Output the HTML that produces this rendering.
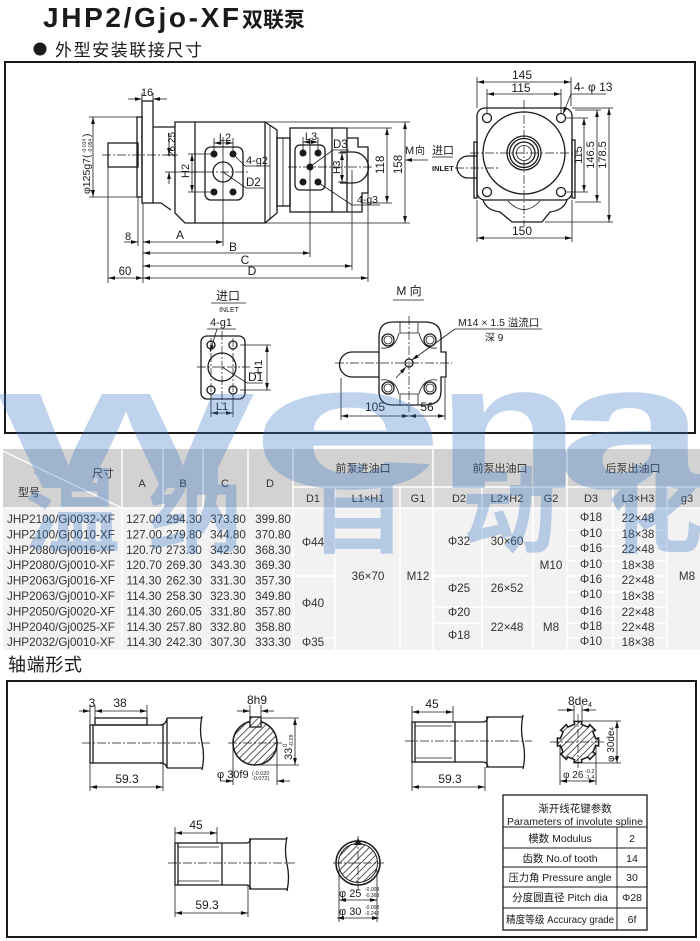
<!DOCTYPE html>
<html><head><meta charset="utf-8">
<style>html,body{margin:0;padding:0;background:#fff;}svg{display:block}</style>
</head><body>
<svg xmlns="http://www.w3.org/2000/svg" width="700" height="941" viewBox="0 0 700 941" font-family="'Liberation Sans','Noto Sans CJK SC',sans-serif">
<defs>
<marker id="a" viewBox="0 0 10 6" refX="10" refY="3" markerWidth="7" markerHeight="4.2" orient="auto-start-reverse" markerUnits="userSpaceOnUse"><path d="M0,0.3 L10,3 L0,5.7z" fill="#111"/></marker>
<pattern id="h" width="5" height="5" patternUnits="userSpaceOnUse" patternTransform="rotate(45)"><line x1="0" y1="0" x2="0" y2="5" stroke="#111" stroke-width="1.4"/></pattern>
</defs>
<style>
.o{fill:none;stroke:#1a1a1a;stroke-width:1.3}
.t{fill:none;stroke:#1a1a1a;stroke-width:0.8}
.d{fill:none;stroke:#1a1a1a;stroke-width:0.8;marker-start:url(#a);marker-end:url(#a)}
.e{fill:none;stroke:#1a1a1a;stroke-width:0.8;marker-end:url(#a)}
.c{fill:none;stroke:#1a1a1a;stroke-width:0.7;stroke-dasharray:9 2 2 2}
.w{stroke:#fff;stroke-width:1.5}
text{fill:#1a1a1a}
.tb{fill:#333;font-size:11.7px}
.th{fill:#333;font-size:11px}
.wm{fill:#3a78c8;font-weight:bold}
</style>

<!-- Header -->
<text x="43" y="27" font-size="28" font-weight="bold" textLength="196" lengthAdjust="spacing">JHP2/Gjo-XF</text>
<text x="242" y="27" font-size="21" font-weight="bold">双联泵</text>
<circle cx="40" cy="49" r="6.5" fill="#1a1a1a"/>
<text x="55" y="56" font-size="17" textLength="147">外型安装联接尺寸</text>

<!-- Box 1 -->
<rect x="5" y="62" width="690" height="371" fill="none" stroke="#1a1a1a" stroke-width="2"/>

<!-- Side view -->
<rect class="o" x="108" y="143" width="30" height="24"/>
<rect class="o" x="137" y="117" width="5" height="80"/>
<rect class="o" x="142" y="101" width="11" height="102"/>
<path class="o" d="M153,127 H175 M153,203 H161 L171,210"/>
<path class="o" d="M175,122 H265 V223 H185 L175,213 Z"/>
<line class="o" x1="195" y1="122" x2="195" y2="223"/>
<path class="o" d="M265,122 L277,130 V213 L265,223"/>
<line class="t" x1="270" y1="125" x2="270" y2="220"/>
<rect class="o" x="277" y="138" width="13" height="68"/>
<line class="t" x1="283" y1="138" x2="283" y2="206"/>
<rect class="o" x="290" y="128" width="42" height="84"/>
<path class="o" d="M332,128 H347 V138 H358 V147 H368 V193 H362 V212 H332"/>
<line class="o" x1="347" y1="138" x2="347" y2="212"/>
<path class="o" d="M340,152 H353 A15.5,15.5 0 0 1 353,183 H340"/>
<!-- front port -->
<rect class="o" x="205" y="147" width="38" height="53" rx="6"/>
<circle cx="214" cy="154" r="3.5" fill="#1a1a1a"/><circle cx="233" cy="154" r="3.5" fill="#1a1a1a"/>
<circle cx="214" cy="192" r="3.5" fill="#1a1a1a"/><circle cx="233" cy="192" r="3.5" fill="#1a1a1a"/>
<circle class="o" cx="223" cy="172" r="10"/>
<!-- rear port -->
<rect class="o" x="295" y="145" width="30" height="45" rx="5"/>
<circle cx="303" cy="153" r="3.5" fill="#1a1a1a"/><circle cx="318" cy="153" r="3.5" fill="#1a1a1a"/>
<circle cx="303" cy="182" r="3.5" fill="#1a1a1a"/><circle cx="318" cy="182" r="3.5" fill="#1a1a1a"/>
<circle cx="310" cy="167" r="3.5" fill="#1a1a1a"/>
<!-- centerlines -->
<line class="c" x1="102" y1="155" x2="172" y2="155"/>
<line class="t" x1="223" y1="137" x2="223" y2="246"/>
<line class="c" x1="190" y1="172" x2="250" y2="172"/>
<line class="t" x1="310" y1="138" x2="310" y2="257"/>
<line class="c" x1="288" y1="167" x2="372" y2="167"/>
<line class="t" x1="352" y1="170" x2="352" y2="270"/>
<line class="t" x1="368" y1="193" x2="368" y2="282"/>
<!-- dims side -->
<line class="t" x1="142" y1="93" x2="142" y2="101"/><line class="t" x1="153" y1="93" x2="153" y2="101"/>
<line class="e" x1="128" y1="99" x2="142" y2="99"/><line class="e" x1="167" y1="99" x2="153" y2="99"/>
<text x="147" y="96" font-size="11" text-anchor="middle">16</text>
<line class="t" x1="89" y1="117" x2="137" y2="117"/><line class="t" x1="89" y1="197" x2="137" y2="197"/>
<line class="d" x1="93" y1="117" x2="93" y2="197"/>
<g transform="translate(90,194) rotate(-90)"><text x="0" y="0" font-size="10.5">φ125g7(</text><text x="41" y="-4" font-size="5">-0.014</text><text x="41" y="2" font-size="5">-0.054</text><text x="57" y="0" font-size="10.5">)</text></g>
<line class="t" x1="165" y1="155" x2="178" y2="155"/><line class="t" x1="165" y1="172" x2="205" y2="172"/>
<line class="e" x1="169" y1="133" x2="169" y2="155"/><line class="e" x1="169" y1="184" x2="169" y2="172"/>
<text transform="translate(175,157) rotate(-90)" font-size="10">26.25</text>
<line class="t" x1="188" y1="154" x2="212" y2="154"/><line class="t" x1="188" y1="192" x2="212" y2="192"/>
<line class="d" x1="192" y1="154" x2="192" y2="192"/>
<text transform="translate(189,178) rotate(-90)" font-size="11">H2</text>
<line class="t" x1="214" y1="138" x2="214" y2="151"/><line class="t" x1="233" y1="138" x2="233" y2="151"/>
<line class="d" x1="214" y1="143" x2="233" y2="143"/>
<text x="225" y="141" font-size="11" text-anchor="middle">L2</text>
<path class="t" d="M234,155 L245,166 H270"/>
<text x="246" y="164" font-size="11">4-g2</text>
<path class="t" d="M223,172 L246,188 H264"/>
<text x="246" y="186" font-size="11.5">D2</text>
<line class="t" x1="303" y1="137" x2="303" y2="150"/><line class="t" x1="318" y1="137" x2="318" y2="150"/>
<line class="d" x1="303" y1="142" x2="318" y2="142"/>
<text x="311" y="140" font-size="11" text-anchor="middle">L3</text>
<path class="t" d="M311,166 L333,150 H349"/>
<text x="333" y="148" font-size="11.5">D3</text>
<line class="t" x1="338" y1="153" x2="346" y2="153"/><line class="t" x1="338" y1="182" x2="346" y2="182"/>
<line class="d" x1="342" y1="153" x2="342" y2="182"/>
<text transform="translate(340,174) rotate(-90)" font-size="10.5">H3</text>
<path class="t" d="M319,183 L352,205 H380"/>
<text x="357" y="203" font-size="10.5">4-g3</text>
<line class="t" x1="347" y1="128" x2="392" y2="128"/><line class="t" x1="362" y1="203" x2="392" y2="203"/>
<line class="d" x1="387" y1="128" x2="387" y2="203"/>
<text transform="translate(384,174) rotate(-90)" font-size="11.5">118</text>
<line class="t" x1="265" y1="122" x2="410" y2="122"/><line class="t" x1="265" y1="223" x2="410" y2="223"/>
<line class="d" x1="405" y1="122" x2="405" y2="223"/>
<text transform="translate(402,174) rotate(-90)" font-size="11.5">158</text>
<!-- bottom dims -->
<line class="t" x1="108" y1="167" x2="108" y2="283"/>
<line class="t" x1="138" y1="197" x2="138" y2="246"/>
<line class="t" x1="143" y1="203" x2="143" y2="283"/>
<line class="e" x1="124" y1="242" x2="138" y2="242"/>
<text x="128" y="240" font-size="11" text-anchor="middle">8</text>
<line class="d" x1="143" y1="242" x2="223" y2="242"/>
<text x="180" y="239" font-size="12" text-anchor="middle">A</text>
<line class="d" x1="143" y1="253" x2="310" y2="253"/>
<text x="233" y="251" font-size="12" text-anchor="middle">B</text>
<line class="d" x1="143" y1="266" x2="352" y2="266"/>
<text x="245" y="264" font-size="12" text-anchor="middle">C</text>
<line class="d" x1="143" y1="278" x2="368" y2="278"/>
<text x="252" y="275" font-size="12" text-anchor="middle">D</text>
<line class="d" x1="108" y1="278" x2="143" y2="278"/>
<text x="125" y="275" font-size="11.5" text-anchor="middle">60</text>

<!-- M direction labels -->
<text x="405" y="154" font-size="11">M</text><text x="415" y="154" font-size="10">向</text>
<line class="e" x1="428" y1="160" x2="405" y2="160"/>
<text x="432" y="154" font-size="11">进口</text>
<line class="t" x1="432" y1="157" x2="453" y2="157"/>
<text x="432" y="171" font-size="7.5" font-weight="bold">INLET</text>
<line class="c" x1="455" y1="168" x2="500" y2="168"/>

<!-- End view -->
<rect class="o" x="477" y="108" width="95" height="92" rx="8"/>
<rect class="o" x="474" y="142" width="3" height="56"/>
<rect class="o" x="572" y="140" width="3" height="58"/>
<path class="o" d="M483,200 Q486,210 500,212 L512,222 H542 L550,212 Q564,210 567,200"/>
<path class="t" d="M508,201 Q524,218 540,201"/>
<path class="o" d="M477,156 H468 A11,11 0 0 0 468,178 H477"/>
<circle class="o" cx="524" cy="153" r="41"/>
<circle class="o" cx="524" cy="153" r="17"/>
<circle class="o" cx="524" cy="153" r="14.5"/>
<circle class="o" cx="524" cy="153" r="11"/>
<circle class="t" cx="524" cy="153" r="7.5"/>
<circle class="o" cx="487" cy="118" r="4.5"/><circle class="o" cx="561" cy="118" r="4.5"/>
<circle class="o" cx="487" cy="192" r="4.5"/><circle class="o" cx="561" cy="192" r="4.5"/>
<line class="c" x1="524" y1="100" x2="524" y2="226"/>
<line class="c" x1="470" y1="153" x2="578" y2="153"/>
<line class="t" x1="477" y1="77" x2="477" y2="108"/><line class="t" x1="571" y1="77" x2="571" y2="106"/>
<line class="d" x1="477" y1="82" x2="571" y2="82"/>
<text x="522" y="79" font-size="12" text-anchor="middle">145</text>
<line class="t" x1="487" y1="89" x2="487" y2="113"/><line class="t" x1="561" y1="89" x2="561" y2="113"/>
<line class="d" x1="487" y1="94" x2="561" y2="94"/>
<text x="521" y="92" font-size="12" text-anchor="middle">115</text>
<text x="574" y="91" font-size="12">4- φ 13</text>
<line class="t" x1="571" y1="94" x2="606" y2="94"/>
<line class="e" x1="571" y1="94" x2="563" y2="114"/>
<line class="t" x1="477" y1="200" x2="477" y2="242"/><line class="t" x1="572" y1="200" x2="572" y2="242"/>
<line class="d" x1="477" y1="238" x2="572" y2="238"/>
<text x="522" y="235" font-size="12" text-anchor="middle">150</text>
<line class="t" x1="565" y1="118" x2="588" y2="118"/><line class="t" x1="565" y1="192" x2="588" y2="192"/>
<line class="d" x1="584" y1="118" x2="584" y2="192"/>
<text transform="translate(582,155) rotate(-90)" font-size="11" text-anchor="middle">115</text>
<line class="t" x1="575" y1="110" x2="601" y2="110"/><line class="t" x1="575" y1="202" x2="601" y2="202"/>
<line class="d" x1="597" y1="110" x2="597" y2="202"/>
<text transform="translate(594,155) rotate(-90)" font-size="11" text-anchor="middle">146.5</text>
<line class="t" x1="572" y1="108" x2="613" y2="108"/><line class="t" x1="545" y1="222" x2="613" y2="222"/>
<line class="d" x1="609" y1="108" x2="609" y2="222"/>
<text transform="translate(606,155) rotate(-90)" font-size="11" text-anchor="middle">178.5</text>

<!-- Inlet flange view -->
<text x="228" y="300" font-size="12" text-anchor="middle">进口</text>
<line class="t" x1="211" y1="303" x2="246" y2="303"/>
<text x="229" y="312" font-size="7" text-anchor="middle">INLET</text>
<text x="210" y="326" font-size="11">4-g1</text>
<line class="t" x1="207" y1="329" x2="236" y2="329"/>
<line class="e" x1="217" y1="329" x2="210" y2="352"/>
<rect class="o" x="201" y="336" width="44" height="63" rx="6"/>
<circle class="o" cx="211" cy="345" r="4"/><circle class="o" cx="233" cy="345" r="4"/>
<circle class="o" cx="211" cy="390" r="4"/><circle class="o" cx="233" cy="390" r="4"/>
<circle class="o" cx="222" cy="367" r="14"/>
<line class="c" x1="222" y1="331" x2="222" y2="404"/>
<line class="c" x1="197" y1="367" x2="250" y2="367"/>
<line class="c" x1="211" y1="338" x2="211" y2="396"/>
<line class="c" x1="233" y1="338" x2="233" y2="396"/>
<path class="t" d="M222,367 L247,383 H263"/>
<text x="248" y="381" font-size="12">D1</text>
<line class="t" x1="240" y1="345" x2="271" y2="345"/><line class="t" x1="240" y1="390" x2="271" y2="390"/>
<line class="d" x1="267" y1="345" x2="267" y2="390"/>
<text transform="translate(262,374) rotate(-90)" font-size="11">H1</text>
<line class="t" x1="211" y1="394" x2="211" y2="417"/><line class="t" x1="233" y1="394" x2="233" y2="417"/>
<line class="d" x1="211" y1="413" x2="233" y2="413"/>
<text x="222" y="410" font-size="11" text-anchor="middle">L1</text>

<!-- M view -->
<text x="409" y="295" font-size="12" text-anchor="middle">M 向</text>
<line class="t" x1="393" y1="300" x2="424" y2="300"/>
<path class="o" d="M393,322 H425 Q441,322 441,337 V352 H446 V377 H441 V391 Q441,405 425,405 H393 Q379,405 379,391 V337 Q379,322 393,322 Z"/>
<path class="o" d="M379,352 H352 A12.5,12.5 0 0 0 352,377 H379"/>
<path class="t" d="M400,322 V333 H418 V322 M400,405 V394 H418 V405"/>
<path class="t" d="M381,348 Q395,350 399,333 M437,348 Q423,350 419,333 M381,380 Q395,378 399,394 M437,380 Q423,378 419,394"/>
<circle class="o" cx="388" cy="340" r="6"/><circle class="t" cx="388" cy="340" r="4"/>
<circle class="o" cx="430" cy="340" r="6"/><circle class="t" cx="430" cy="340" r="4"/>
<circle class="o" cx="388" cy="388" r="6"/><circle class="t" cx="388" cy="388" r="4"/>
<circle class="o" cx="430" cy="388" r="6"/><circle class="t" cx="430" cy="388" r="4"/>
<circle class="o" cx="409" cy="363" r="4"/>
<line class="c" x1="335" y1="363" x2="452" y2="363"/>
<line class="c" x1="409" y1="316" x2="409" y2="412"/>
<text x="458" y="326" font-size="10.5">M14 × 1.5 溢流口</text>
<line class="t" x1="455" y1="329" x2="542" y2="329"/>
<text x="485" y="341" font-size="10">深 9</text>
<line class="e" x1="455" y1="329" x2="412" y2="360"/>
<line class="e" x1="396" y1="378" x2="406" y2="367"/>
<line class="t" x1="341" y1="378" x2="341" y2="420"/>
<line class="t" x1="445" y1="378" x2="445" y2="420"/>
<line class="d" x1="341" y1="416" x2="409" y2="416"/>
<line class="d" x1="409" y1="416" x2="445" y2="416"/>
<text x="375" y="411" font-size="12" text-anchor="middle">105</text>
<text x="427" y="411" font-size="12" text-anchor="middle">56</text>

<!-- Table -->
<rect x="3" y="449" width="697" height="59" fill="#d2d2d2"/>
<rect x="293" y="487" width="407" height="21" fill="#d9d9d9"/>
<rect x="3" y="508" width="697" height="142" fill="#f2f2f2"/>
<g class="w">
<line x1="122" y1="449" x2="122" y2="650"/><line x1="163" y1="449" x2="163" y2="508"/>
<line x1="203" y1="449" x2="203" y2="508"/><line x1="248" y1="449" x2="248" y2="508"/>
<line x1="293" y1="449" x2="293" y2="650"/><line x1="433" y1="449" x2="433" y2="650"/>
<line x1="567" y1="449" x2="567" y2="650"/>
<line x1="335" y1="487" x2="335" y2="650"/><line x1="400" y1="487" x2="400" y2="650"/>
<line x1="482" y1="487" x2="482" y2="650"/><line x1="533" y1="487" x2="533" y2="650"/>
<line x1="613" y1="487" x2="613" y2="650"/><line x1="667" y1="487" x2="667" y2="650"/>
<line x1="293" y1="487" x2="700" y2="487"/>
<line x1="3" y1="508" x2="700" y2="508"/>
<line x1="3" y1="451" x2="122" y2="508"/>
<line x1="567" y1="530" x2="667" y2="530"/><line x1="567" y1="546" x2="667" y2="546"/>
<line x1="567" y1="561" x2="667" y2="561"/><line x1="567" y1="576" x2="667" y2="576"/>
<line x1="567" y1="592" x2="667" y2="592"/><line x1="567" y1="607" x2="667" y2="607"/>
<line x1="567" y1="623" x2="667" y2="623"/><line x1="567" y1="638" x2="667" y2="638"/>
<line x1="293" y1="576" x2="335" y2="576"/><line x1="293" y1="638" x2="335" y2="638"/>
<line x1="433" y1="576" x2="533" y2="576"/><line x1="433" y1="607" x2="533" y2="607"/>
<line x1="433" y1="623" x2="482" y2="623"/><line x1="533" y1="607" x2="567" y2="607"/>
</g>
<text class="th" x="92" y="477">尺寸</text>
<text class="th" x="18" y="496">型号</text>
<g class="th" text-anchor="middle">
<text class="th" x="142" y="487">A</text><text class="th" x="183" y="487">B</text>
<text class="th" x="225" y="487">C</text><text class="th" x="270" y="487">D</text>
<text class="th" x="363" y="472">前泵进油口</text><text class="th" x="500" y="472">前泵出油口</text><text class="th" x="633" y="472">后泵出油口</text>
<text class="th" x="313" y="502">D1</text><text class="th" x="368" y="502">L1×H1</text><text class="th" x="418" y="502">G1</text>
<text class="th" x="459" y="502">D2</text><text class="th" x="507" y="502">L2×H2</text><text class="th" x="551" y="502">G2</text>
<text class="th" x="591" y="502">D3</text><text class="th" x="638" y="502">L3×H3</text><text class="th" x="687" y="502">g3</text>
</g>
<g>
<text class="tb" x="7" y="523">JHP2100/Gj0032-XF</text>
<text class="tb" x="7" y="538.4">JHP2100/Gj0010-XF</text>
<text class="tb" x="7" y="553.8">JHP2080/Gj0016-XF</text>
<text class="tb" x="7" y="569.2">JHP2080/Gj0010-XF</text>
<text class="tb" x="7" y="584.6">JHP2063/Gj0016-XF</text>
<text class="tb" x="7" y="600">JHP2063/Gj0010-XF</text>
<text class="tb" x="7" y="615.4">JHP2050/Gj0020-XF</text>
<text class="tb" x="7" y="630.8">JHP2040/Gj0025-XF</text>
<text class="tb" x="7" y="646.2">JHP2032/Gj0010-XF</text>
</g>
<g text-anchor="middle">
<text class="tb" x="144" y="523">127.00</text><text class="tb" x="184" y="523">294.30</text><text class="tb" x="228" y="523">373.80</text><text class="tb" x="273" y="523">399.80</text>
<text class="tb" x="144" y="538.4">127.00</text><text class="tb" x="184" y="538.4">279.80</text><text class="tb" x="228" y="538.4">344.80</text><text class="tb" x="273" y="538.4">370.80</text>
<text class="tb" x="144" y="553.8">120.70</text><text class="tb" x="184" y="553.8">273.30</text><text class="tb" x="228" y="553.8">342.30</text><text class="tb" x="273" y="553.8">368.30</text>
<text class="tb" x="144" y="569.2">120.70</text><text class="tb" x="184" y="569.2">269.30</text><text class="tb" x="228" y="569.2">343.30</text><text class="tb" x="273" y="569.2">369.30</text>
<text class="tb" x="144" y="584.6">114.30</text><text class="tb" x="184" y="584.6">262.30</text><text class="tb" x="228" y="584.6">331.30</text><text class="tb" x="273" y="584.6">357.30</text>
<text class="tb" x="144" y="600">114.30</text><text class="tb" x="184" y="600">258.30</text><text class="tb" x="228" y="600">323.30</text><text class="tb" x="273" y="600">349.80</text>
<text class="tb" x="144" y="615.4">114.30</text><text class="tb" x="184" y="615.4">260.05</text><text class="tb" x="228" y="615.4">331.80</text><text class="tb" x="273" y="615.4">357.80</text>
<text class="tb" x="144" y="630.8">114.30</text><text class="tb" x="184" y="630.8">257.80</text><text class="tb" x="228" y="630.8">332.80</text><text class="tb" x="273" y="630.8">358.80</text>
<text class="tb" x="144" y="646.2">114.30</text><text class="tb" x="184" y="646.2">242.30</text><text class="tb" x="228" y="646.2">307.30</text><text class="tb" x="273" y="646.2">333.30</text>
<text class="tb" x="313" y="546">Φ44</text><text class="tb" x="313" y="607">Φ40</text><text class="tb" x="313" y="646">Φ35</text>
<text class="tb" x="368" y="580">36×70</text><text class="tb" x="418" y="580">M12</text>
<text class="tb" x="459" y="545">Φ32</text><text class="tb" x="507" y="545">30×60</text>
<text class="tb" x="459" y="592">Φ25</text><text class="tb" x="507" y="592">26×52</text>
<text class="tb" x="459" y="616">Φ20</text><text class="tb" x="459" y="639">Φ18</text><text class="tb" x="507" y="631">22×48</text>
<text class="tb" x="551" y="569">M10</text><text class="tb" x="551" y="631">M8</text>
<text class="tb" x="591" y="521">Φ18</text><text class="tb" x="638" y="522">22×48</text>
<text class="tb" x="591" y="537">Φ10</text><text class="tb" x="638" y="538">18×38</text>
<text class="tb" x="591" y="552">Φ16</text><text class="tb" x="638" y="553">22×48</text>
<text class="tb" x="591" y="568">Φ10</text><text class="tb" x="638" y="569">18×38</text>
<text class="tb" x="591" y="583">Φ16</text><text class="tb" x="638" y="584">22×48</text>
<text class="tb" x="591" y="598">Φ10</text><text class="tb" x="638" y="600">18×38</text>
<text class="tb" x="591" y="615">Φ16</text><text class="tb" x="638" y="616">22×48</text>
<text class="tb" x="591" y="630">Φ18</text><text class="tb" x="638" y="631">22×48</text>
<text class="tb" x="591" y="645">Φ10</text><text class="tb" x="638" y="646">18×38</text>
<text class="tb" x="687" y="580">M8</text>
</g>

<!-- Section 2 -->
<text x="8" y="671" font-size="18" textLength="74">轴端形式</text>
<rect x="7" y="681" width="689" height="256" fill="none" stroke="#1a1a1a" stroke-width="2"/>

<!-- Shaft 1 keyed -->
<rect class="o" x="90" y="725" width="73" height="38"/>
<line class="o" x1="93" y1="725" x2="93" y2="763"/>
<rect class="o" x="95" y="718" width="52" height="7"/>
<path class="o" d="M160,725 Q166,725 167,718 M160,763 Q166,763 167,768 M167,718 H202 M167,768 H202 M167,718 V768"/>
<path class="o" d="M202,716 Q199,730 202,743 Q205,756 202,770"/>
<line class="c" x1="82" y1="743" x2="210" y2="743"/>
<line class="t" x1="90" y1="705" x2="90" y2="725"/><line class="t" x1="95" y1="705" x2="95" y2="718"/><line class="t" x1="147" y1="705" x2="147" y2="718"/>
<line class="e" x1="79" y1="711" x2="90" y2="711"/>
<line class="d" x1="95" y1="711" x2="147" y2="711"/>
<text x="92" y="707" font-size="12" text-anchor="middle">3</text>
<text x="120" y="707" font-size="12" text-anchor="middle">38</text>
<line class="t" x1="90" y1="763" x2="90" y2="791"/><line class="t" x1="163" y1="763" x2="163" y2="791"/>
<line class="d" x1="90" y1="787" x2="163" y2="787"/>
<text x="127" y="783" font-size="12" text-anchor="middle">59.3</text>
<!-- section 1 -->
<circle cx="255" cy="743" r="22" fill="url(#h)" stroke="#1a1a1a" stroke-width="1.5"/>
<rect x="250" y="717" width="11" height="10" fill="#fff" stroke="#1a1a1a" stroke-width="1.3"/>
<rect x="250" y="717" width="11" height="10" fill="url(#h)"/>
<line class="c" x1="228" y1="743" x2="282" y2="743"/>
<line class="t" x1="250" y1="705" x2="250" y2="717"/><line class="t" x1="261" y1="705" x2="261" y2="717"/>
<line class="e" x1="237" y1="711" x2="250" y2="711"/><line class="e" x1="274" y1="711" x2="261" y2="711"/>
<text x="257" y="704" font-size="12" text-anchor="middle">8h9</text>
<line class="t" x1="262" y1="718" x2="299" y2="718"/><line class="t" x1="257" y1="765" x2="299" y2="765"/>
<line class="d" x1="295" y1="718" x2="295" y2="765"/>
<g transform="translate(292,760) rotate(-90)"><text x="0" y="0" font-size="11">33</text><text x="13" y="-5" font-size="6">0</text><text x="13" y="1" font-size="5.5">-0.28</text></g>
<line class="t" x1="233" y1="745" x2="233" y2="785"/><line class="t" x1="277" y1="745" x2="277" y2="785"/>
<line class="e" x1="220" y1="781" x2="233" y2="781"/><line class="e" x1="290" y1="781" x2="277" y2="781"/>
<text x="217" y="778" font-size="11">φ 30f9</text>
<text x="252" y="775" font-size="5.5">(-0.020</text><text x="252" y="780" font-size="5.5"> -0.072)</text>

<!-- Shaft 2 spline -->
<rect class="o" x="412" y="722" width="43" height="40"/>
<line class="t" x1="415" y1="726" x2="452" y2="726"/><line class="t" x1="415" y1="758" x2="452" y2="758"/>
<line class="o" x1="415" y1="722" x2="415" y2="762"/>
<path class="o" d="M455,722 H483 Q487,722 488,717 M455,762 H483 Q487,762 488,767 M486,717 H523 M486,767 H523 M487,717 V767"/>
<path class="o" d="M523,715 Q520,729 523,742 Q526,755 523,769"/>
<line class="c" x1="405" y1="741" x2="532" y2="741"/>
<line class="t" x1="412" y1="706" x2="412" y2="722"/><line class="t" x1="453" y1="706" x2="453" y2="722"/>
<line class="d" x1="412" y1="712" x2="453" y2="712"/>
<text x="432" y="708" font-size="12" text-anchor="middle">45</text>
<line class="t" x1="412" y1="762" x2="412" y2="791"/><line class="t" x1="485" y1="767" x2="485" y2="791"/>
<line class="d" x1="412" y1="787" x2="485" y2="787"/>
<text x="450" y="783" font-size="12" text-anchor="middle">59.3</text>
<!-- spline section -->
<path d="M598.6,738 L598.6,746 L595.7,745.4 L592.9,752.1 L595.4,753.7 L589.7,759.4 L588.1,756.9 L581.4,759.7 L582,762.6 L574,762.6 L574.6,759.7 L567.9,756.9 L566.3,759.4 L560.6,753.7 L563.1,752.1 L560.3,745.4 L557.4,746 L557.4,738 L560.3,738.6 L563.1,731.9 L560.6,730.3 L566.3,724.6 L567.9,727.1 L574.6,724.3 L574,721.4 L582,721.4 L581.4,724.3 L588.1,727.1 L589.7,724.6 L595.4,730.3 L592.9,731.9 L595.7,738.6 Z" fill="url(#h)" stroke="#1a1a1a" stroke-width="1.5"/>
<line class="c" x1="550" y1="742" x2="606" y2="742"/>
<line class="c" x1="578" y1="714" x2="578" y2="770"/>
<line class="t" x1="574" y1="705" x2="574" y2="722"/><line class="t" x1="582" y1="705" x2="582" y2="722"/>
<line class="e" x1="558" y1="710" x2="574" y2="710"/><line class="e" x1="596" y1="710" x2="582" y2="710"/>
<text x="568" y="705" font-size="12">8de<tspan font-size="7" dy="2">4</tspan></text>
<line class="t" x1="583" y1="721" x2="621" y2="721"/><line class="t" x1="583" y1="763" x2="621" y2="763"/>
<line class="d" x1="617" y1="721" x2="617" y2="763"/>
<text transform="translate(614,762) rotate(-90)" font-size="10">φ 30de<tspan font-size="6">4</tspan></text>
<line class="t" x1="560" y1="746" x2="560" y2="785"/><line class="t" x1="596" y1="746" x2="596" y2="785"/>
<line class="d" x1="560" y1="781" x2="596" y2="781"/>
<text x="563" y="778" font-size="10">φ 26</text>
<text x="585" y="773" font-size="5.5">-0.2</text><text x="585" y="779" font-size="5.5">-1.4</text>

<!-- Shaft 3 -->
<rect class="o" x="175" y="843" width="47" height="42"/>
<line class="t" x1="178" y1="847" x2="219" y2="847"/><line class="t" x1="178" y1="881" x2="219" y2="881"/>
<line class="o" x1="178" y1="843" x2="178" y2="885"/>
<path class="o" d="M222,843 H246 Q250,843 251,839 M222,885 H246 Q250,885 251,889 M249,839 H287 M249,889 H287 M250,839 V889"/>
<path class="o" d="M287,837 Q284,850 287,864 Q290,877 287,891"/>
<line class="c" x1="168" y1="863" x2="295" y2="863"/>
<line class="t" x1="175" y1="827" x2="175" y2="843"/><line class="t" x1="217" y1="827" x2="217" y2="843"/>
<line class="d" x1="175" y1="833" x2="217" y2="833"/>
<text x="196" y="829" font-size="12" text-anchor="middle">45</text>
<line class="t" x1="175" y1="885" x2="175" y2="917"/><line class="t" x1="248" y1="885" x2="248" y2="917"/>
<line class="d" x1="175" y1="913" x2="248" y2="913"/>
<text x="207" y="909" font-size="12" text-anchor="middle">59.3</text>
<!-- section 3 -->
<circle cx="358" cy="863" r="22" fill="none" stroke="#1a1a1a" stroke-width="1.5"/>
<circle cx="358" cy="863" r="19.5" fill="url(#h)" stroke="#1a1a1a" stroke-width="1"/>
<path d="M354,845 L358,838 L362,845 Z" fill="#1a1a1a"/>
<line class="c" x1="333" y1="863" x2="384" y2="863"/>
<line class="c" x1="358" y1="836" x2="358" y2="890"/>
<line class="t" x1="339" y1="870" x2="339" y2="922"/><line class="t" x1="377" y1="870" x2="377" y2="922"/>
<line class="d" x1="339" y1="900" x2="377" y2="900"/>
<text x="339" y="897" font-size="11">φ 25</text>
<text x="365" y="891" font-size="5">-0.008</text><text x="365" y="897" font-size="5">-0.368</text>
<line class="d" x1="337" y1="918" x2="379" y2="918"/>
<text x="339" y="915" font-size="11">φ 30</text>
<text x="365" y="909" font-size="5">-0.008</text><text x="365" y="915" font-size="5">-0.240</text>

<!-- Spline parameter table -->
<rect x="503" y="795" width="144" height="135" fill="#fff" stroke="#1a1a1a" stroke-width="1.3"/>
<g stroke="#1a1a1a" stroke-width="1">
<line x1="503" y1="827" x2="647" y2="827"/><line x1="503" y1="848" x2="647" y2="848"/>
<line x1="503" y1="867" x2="647" y2="867"/><line x1="503" y1="887" x2="647" y2="887"/>
<line x1="503" y1="908" x2="647" y2="908"/><line x1="617" y1="827" x2="617" y2="930"/>
</g>
<g font-size="10.5" text-anchor="middle">
<text x="575" y="812">渐开线花键参数</text>
<text x="575" y="825" textLength="136" lengthAdjust="spacingAndGlyphs">Parameters of involute spline</text>
<text x="560" y="842">模数  Modulus</text><text x="632" y="842">2</text>
<text x="560" y="862">齿数 No.of tooth</text><text x="632" y="862">14</text>
<text x="560" y="881" textLength="103" lengthAdjust="spacingAndGlyphs">压力角 Pressure angle</text><text x="632" y="881">30</text>
<text x="560" y="901">分度圆直径 Pitch dia</text><text x="632" y="901">Φ28</text>
<text x="560" y="923" textLength="108" lengthAdjust="spacingAndGlyphs">精度等级 Accuracy grade</text><text x="632" y="923">6f</text>
</g>

<!-- Watermark -->
<g opacity="0.32">
<text class="wm" x="-1" y="488" font-size="178" textLength="254" lengthAdjust="spacingAndGlyphs">w</text>
<text class="wm" x="249" y="488" font-size="178" textLength="196" lengthAdjust="spacingAndGlyphs">e</text>
<text class="wm" x="436" y="488" font-size="178" textLength="144" lengthAdjust="spacingAndGlyphs">n</text>
<text class="wm" x="556" y="488" font-size="178" textLength="150" lengthAdjust="spacingAndGlyphs">a</text>
<g font-family="'Noto Sans CJK SC',sans-serif" font-size="95">
<text class="wm" x="25" y="545">温</text>
<text class="wm" x="148" y="545">纳</text>
<text class="wm" x="310" y="545">自</text>
<text class="wm" x="462" y="545">动</text>
<text class="wm" x="608" y="545">化</text>
</g>
</g>
</svg>
</body></html>
